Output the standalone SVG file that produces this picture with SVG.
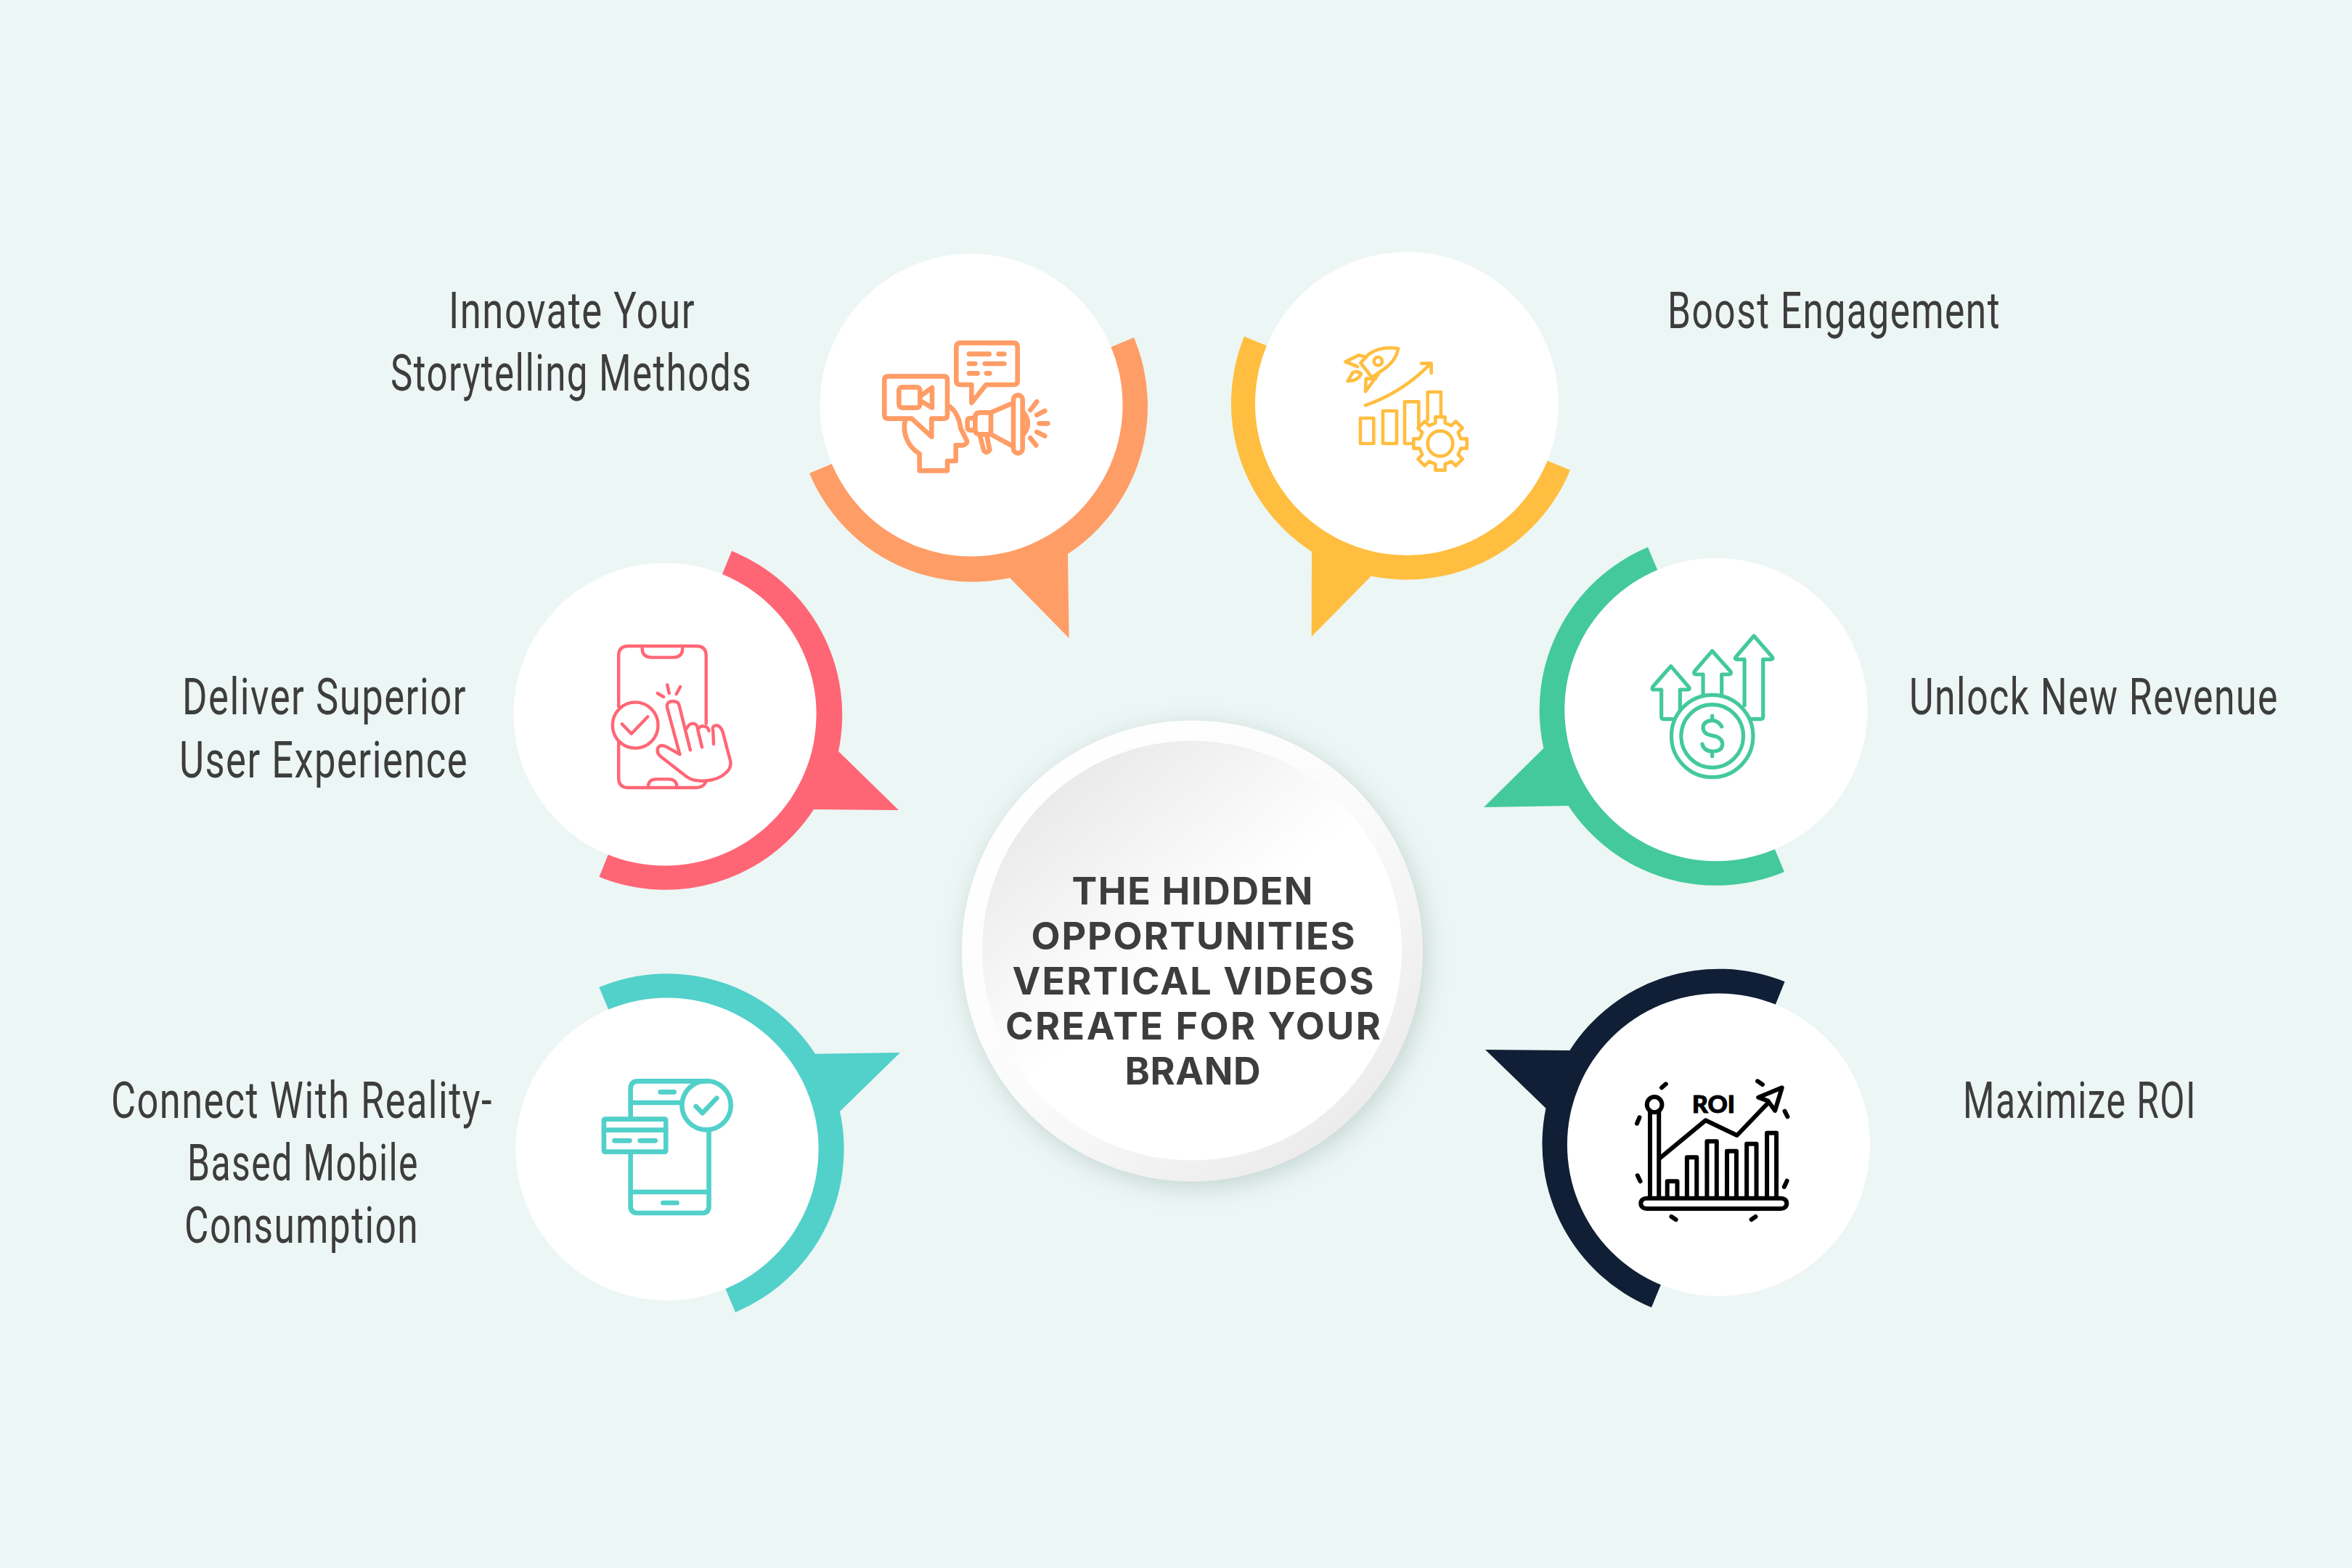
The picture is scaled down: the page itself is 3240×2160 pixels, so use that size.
<svg xmlns="http://www.w3.org/2000/svg" width="3240" height="2160" viewBox="0 0 3240 2160">
<style>
.lbl{font-family:"Roboto","Liberation Sans",sans-serif;font-weight:400;font-size:70px;fill:#3d3d3d;letter-spacing:2px}
.ttl{font-family:"Inter","Liberation Sans",sans-serif;font-weight:700;font-size:52px;fill:#3d3d3d;text-anchor:middle}
.ic path,.ic circle,.ic ellipse,.ic rect,.ic line{fill:none;stroke-linecap:round;stroke-linejoin:round;vector-effect:non-scaling-stroke}
.wf{fill:#fff!important}
.orange *{stroke:#ff9d66;stroke-width:6.6px}
.yellow *{stroke:#ffbe40;stroke-width:4.6px}
.red *{stroke:#ff6675;stroke-width:4.4px}
.green *{stroke:#43c99c;stroke-width:5.2px}
.teal *{stroke:#52d0ca;stroke-width:6.6px}
.navy *{stroke:#000;stroke-width:6px}
</style>
<defs>
<linearGradient id="ro" x1="0.15" y1="0.1" x2="0.85" y2="0.9"><stop offset="0" stop-color="#ffffff"/><stop offset="0.5" stop-color="#fbfbfb"/><stop offset="1" stop-color="#ebebeb"/></linearGradient>
<linearGradient id="ri" x1="0.15" y1="0.1" x2="0.75" y2="0.85"><stop offset="0" stop-color="#e9e9e9"/><stop offset="0.55" stop-color="#ffffff"/><stop offset="1" stop-color="#ffffff"/></linearGradient>
<filter id="sh" x="-20%" y="-20%" width="140%" height="140%"><feDropShadow dx="5" dy="8" stdDeviation="16" flood-color="#7d9a96" flood-opacity="0.36"/></filter>
</defs>
<rect width="3240" height="2160" fill="#ecf6f4"/>
<g id="connectors">
<path fill="#ff9d66" d="M1562 465A243.5 243.5 0 0 1 1471 763L1472.6 879L1391 796A243.5 243.5 0 0 1 1115 652L1338 558Z"/>
<path fill="#ffbe40" d="M1714 463.6A243.5 243.5 0 0 0 1807 760L1806.7 877L1889 793.6A243.5 243.5 0 0 0 2163 647.5L1938 556Z"/>
<path fill="#ff6675" d="M1008 759A243.5 243.5 0 0 1 1155 1035L1238 1116L1121 1115A243.5 243.5 0 0 1 825.4 1208L916 984Z"/>
<path fill="#43c99c" d="M2270 753.7A243.5 243.5 0 0 0 2126.4 1030.7L2044 1112L2160.5 1110A243.5 243.5 0 0 0 2458 1201L2364 977.5Z"/>
<path fill="#52d0ca" d="M825.4 1360A243.5 243.5 0 0 1 1123 1451.7L1240 1450L1157 1531A243.5 243.5 0 0 1 1013 1807.7L919 1584Z"/>
<path fill="#101f36" d="M2458.6 1352.3A243.5 243.5 0 0 0 2162.4 1447L2046 1446L2129.5 1526.7A243.5 243.5 0 0 0 2275 1801L2367.5 1577.5Z"/>
</g>
<g id="center">
<circle cx="1642.4" cy="1310" r="317.5" fill="url(#ro)" filter="url(#sh)"/>
<circle cx="1642" cy="1309.5" r="289" fill="url(#ri)"/>
<text class="ttl" x="1642.5" y="1246" textLength="332">THE HIDDEN</text>
<text class="ttl" x="1643.5" y="1308" textLength="446">OPPORTUNITIES</text>
<text class="ttl" x="1643.5" y="1370" textLength="498">VERTICAL VIDEOS</text>
<text class="ttl" x="1643.5" y="1431.5" textLength="517">CREATE FOR YOUR</text>
<text class="ttl" x="1643" y="1493.5" textLength="187">BRAND</text>
</g>
<g id="node-innovate">
<circle cx="1338" cy="558" r="208.5" fill="#fff"/>
<g class="ic orange" transform="translate(1180 440) scale(.33333)">
<path d="M130 235H360Q375 235 375 250V395Q375 410 360 410H310V485L228 410H130Q115 410 115 395V250Q115 235 130 235Z"/>
<rect x="175" y="280" width="87" height="85" rx="14"/>
<path d="M262 318L312 282V365L262 335"/>
<path d="M200 420C190 470 210 525 260 555V625H375V585H410V520H440Q460 515 455 500L430 450C425 410 410 380 385 360"/>
<path d="M430 97H648Q665 97 665 115V255Q665 270 648 270H535L475 345V270H430Q412 270 412 255V115Q412 97 430 97Z"/>
<path d="M465 143H548M587 143H610M465 183H490M530 183H610M465 223H500M537 223H550"/>
<rect x="648" y="313" width="38" height="240" rx="19"/>
<path d="M648 345L555 385H510Q490 385 490 405V455Q490 475 510 475H555L648 525"/>
<path d="M555 385V475M490 408H472Q458 408 458 420V445Q458 458 472 458H490"/>
<path d="M510 480L525 540Q535 558 550 540L538 480"/>
<path d="M690 385Q725 430 690 475"/>
<path d="M718 375L745 340M745 395L778 378M755 430H790M745 465L778 482M718 490L742 520"/>
</g>
<text class="lbl" x="618" y="452" textLength="340" lengthAdjust="spacingAndGlyphs">Innovate Your</text>
<text class="lbl" x="538" y="538" textLength="498" lengthAdjust="spacingAndGlyphs">Storytelling Methods</text>
</g>
<g id="node-boost">
<circle cx="1938" cy="556" r="209" fill="#fff"/>
<g class="ic yellow" transform="translate(1820 450) scale(.33333)">
<path d="M318 90Q240 80 195 115L163 150L210 210L245 185Q310 145 318 90Z"/>
<circle cx="235" cy="143" r="17"/>
<path d="M185 125L155 118L100 145L150 165"/>
<path d="M225 215L185 215L183 268L240 190"/>
<path d="M110 225L130 190Q150 180 165 195Q150 225 110 225Z"/>
<path d="M183 325Q340 270 452 152M415 152H455V192"/>
<rect x="162" y="378" width="55" height="105"/>
<rect x="255" y="348" width="57" height="135"/>
<path d="M375 483H345V310H403V420M440 385V270H495V365"/>
<g transform="translate(492 483)"><path class="wf" d="M-20-85V-110H20V-85L46-74L64-92L92-64L74-46L85-20H110V20H85L74 46L92 64L64 92L46 74L20 85V110H-20V85L-46 74L-64 92L-92 64L-74 46L-85 20H-110V-20H-85L-74-46L-92-64L-64-92L-46-74Z"/><circle r="52"/></g>
</g>
<text class="lbl" x="2297" y="452" textLength="459" lengthAdjust="spacingAndGlyphs">Boost Engagement</text>
</g>
<g id="node-deliver">
<circle cx="916" cy="984" r="208.6" fill="#fff"/>
<g class="ic red" transform="translate(680 740) scale(.38265 .33333)">
<path d="M450 700V490Q450 450 485 450H730Q765 450 765 490V770M450 845V995Q450 1035 485 1035H730Q755 1035 765 1010"/>
<path d="M535 450V460Q535 497 570 497H645Q680 497 680 460V450M556 1035Q556 1000 585 1000H630Q660 1000 660 1035"/>
<ellipse cx="510" cy="777" rx="82" ry="95"/>
<path d="M462 772L496 812L555 742M590 645L612 660M625 610L632 645M672 618L658 648"/>
<path d="M670 897L625 705Q620 680 645 678Q665 678 668 695L708 880"/>
<path d="M670 897L620 865Q600 855 592 870Q585 890 600 905L695 990Q720 1010 760 1007Q810 1005 840 970Q860 945 850 915L825 805Q815 775 800 778Q785 780 790 800L792 855"/>
<path d="M695 790Q705 768 720 770Q733 772 735 795L750 868M738 790Q745 778 760 782Q772 785 775 800"/>
</g>
<text class="lbl" x="251" y="984" textLength="392" lengthAdjust="spacingAndGlyphs">Deliver Superior</text>
<text class="lbl" x="247" y="1071" textLength="398" lengthAdjust="spacingAndGlyphs">User Experience</text>
</g>
<g id="node-unlock">
<circle cx="2364" cy="977.5" r="208.7" fill="#fff"/>
<g class="ic green" transform="translate(2030 740) scale(.38265 .33333)">
<ellipse cx="859" cy="822" rx="147" ry="170"/>
<ellipse cx="859" cy="822" rx="112" ry="130"/>
<path d="M893 783Q880 755 855 758Q825 762 826 790Q828 815 860 820Q895 827 896 855Q895 885 860 885Q830 885 823 855M859 738V755M859 888V905"/>
<path d="M718 752H685Q676 752 676 742V630H648Q640 630 645 618L710 533L775 620Q780 630 770 630H743V715"/>
<path d="M826 650V567H800Q790 567 795 555L859 470L925 555Q930 567 918 567H893V650"/>
<path d="M975 695V505H950Q938 505 944 495L1009 408L1075 495Q1080 505 1068 505H1042V742Q1042 752 1032 752H1000"/>
</g>
<text class="lbl" x="2630" y="984" textLength="509" lengthAdjust="spacingAndGlyphs">Unlock New Revenue</text>
</g>
<g id="node-connect">
<circle cx="919" cy="1583" r="208.6" fill="#fff"/>
<g class="ic teal" transform="translate(680 1320) scale(.38265 .33333)">
<path d="M493 655V540Q493 508 520 508H765M775 720V1025Q775 1053 750 1053H520Q493 1053 493 1025V810M493 597H675M493 966H775"/>
<path d="M600 553H650M610 1011H660"/>
<ellipse cx="766" cy="608" rx="88" ry="101"/>
<path d="M728 612L752 640L803 578"/>
<rect x="397" y="665" width="223" height="135" rx="4"/>
<path d="M397 710H620M435 754H490M527 754H582"/>
</g>
<text class="lbl" x="153" y="1540" textLength="526" lengthAdjust="spacingAndGlyphs">Connect With Reality-</text>
<text class="lbl" x="258" y="1626" textLength="319" lengthAdjust="spacingAndGlyphs">Based Mobile</text>
<text class="lbl" x="254" y="1712" textLength="323" lengthAdjust="spacingAndGlyphs">Consumption</text>
</g>
<g id="node-roi">
<circle cx="2367.5" cy="1577" r="208.6" fill="#fff"/>
<g class="ic navy" transform="translate(2030 1320) scale(.38265 .33333)">
<rect x="602" y="992" width="525" height="43" rx="20"/>
<path d="M635 985V632M667 985V632"/>
<ellipse cx="651" cy="605" rx="27" ry="32"/>
<path d="M697 985V922H733V985M768 985V823H803V985M840 985V757H875V985M912 985V797H946V985M983 985V767H1018V985M1056 985V722H1090V985"/>
<path d="M672 825L835 670L948 732L1060 598"/>
<path d="M1025 575L1110 535L1085 630L1060 590Z"/>
<path d="M677 535L692 520M1022 508L1040 522M1120 632L1130 655M1128 920L1118 945M1015 1068L1000 1080M728 1080L712 1068M590 898L600 922M597 658L588 683"/>
</g>
<text x="2331" y="1533" font-family="Lato,'Liberation Sans',sans-serif" font-weight="900" font-size="32" fill="#000" stroke="#000" stroke-width="1" textLength="59" lengthAdjust="spacingAndGlyphs">ROI</text>
<text class="lbl" x="2704" y="1540" textLength="322" lengthAdjust="spacingAndGlyphs">Maximize ROI</text>
</g>
</svg>
